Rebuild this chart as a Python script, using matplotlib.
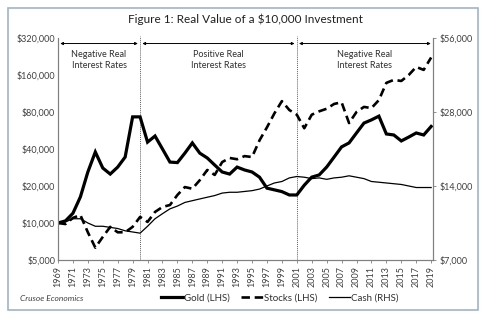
import matplotlib
matplotlib.use("Agg")
import matplotlib.pyplot as plt
from matplotlib.patches import Rectangle
from matplotlib.ticker import FixedLocator, NullLocator

plt.rcParams['font.family'] = ['Lato', 'DejaVu Sans']

years = list(range(1969, 2020))

gold = [10000, 10400, 12000, 16300, 26000, 37800, 28000, 25000, 28500, 34400,
        73000, 73000, 45500, 51000, 40000, 31300, 31000, 37000, 44800, 37000,
        33800, 29600, 26000, 25000, 28500, 27000, 26000, 23600, 19200, 18600,
        18000, 16900, 16900, 20300, 23600, 24600, 28500, 34400, 41600, 44800,
        54000, 65000, 69000, 74000, 53000, 52000, 46500, 50000, 54000, 52000,
        61000]

stocks = [10000, 9800, 11000, 11600, 8400, 6300, 7700, 9300, 8400, 8400,
          9300, 11200, 10200, 12300, 13500, 14000, 16900, 19600, 19000, 22300,
          27000, 24600, 31300, 33800, 33000, 35000, 34400, 47000, 60000, 78000,
          98000, 83000, 76000, 59000, 76000, 81000, 85000, 93000, 96000, 65000,
          80000, 88000, 86000, 100000, 138000, 146000, 143000, 160000, 186000, 176000,
          222000]

cash = [10000, 10000, 10300, 10300, 9900, 9600, 9600, 9500, 9400, 9200,
        9100, 9000, 9600, 10300, 10800, 11300, 11600, 12000, 12200, 12400,
        12600, 12800, 13100, 13200, 13200, 13300, 13400, 13600, 14000, 14400,
        14600, 15100, 15300, 15200, 15000, 15100, 14900, 15100, 15200, 15400,
        15200, 15000, 14600, 14500, 14400, 14300, 14200, 14000, 13800, 13800,
        13800]

left_ticks = [5000, 10000, 20000, 40000, 80000, 160000, 320000]
right_ticks = [7000, 14000, 28000, 56000]
regime_breaks = [1980, 2001]
regimes = [(1969, 1980, "Negative Real\nInterest Rates"),
           (1980, 2001, "Positive Real\nInterest Rates"),
           (2001, 2019.25, "Negative Real\nInterest Rates")]

fig = plt.figure(figsize=(5.0, 3.26), dpi=100)
fig.patches.append(Rectangle((0.016, 0.049), 0.94, 0.926, transform=fig.transFigure,
                             fill=False, edgecolor='#9fb4cc', linewidth=1.2))

ax = fig.add_axes([0.116, 0.2025, 0.75, 0.681])
ax2 = ax.twinx()

ax.plot(years, gold, color='black', lw=2.3, solid_joinstyle='miter', label='Gold (LHS)', zorder=3)
ax.plot(years, stocks, color='black', lw=1.9, dashes=(3.2, 1.8), label='Stocks (LHS)', zorder=3)
ax2.plot(years, cash, color='black', lw=0.9, label='Cash (RHS)')

ax.set_yscale('log')
ax.set_ylim(5000, 320000)
ax.yaxis.set_major_locator(FixedLocator(left_ticks))
ax.yaxis.set_minor_locator(NullLocator())
ax.set_yticklabels(['\\$' + format(v, ',') for v in left_ticks], fontsize=6.5, color='#404040')

ax2.set_yscale('log')
ax2.set_ylim(7000, 56000)
ax2.yaxis.set_major_locator(FixedLocator(right_ticks))
ax2.yaxis.set_minor_locator(NullLocator())
ax2.set_yticklabels(['\\$' + format(v, ',') for v in right_ticks], fontsize=6.5, color='#404040')

ax.set_xlim(1969, 2019.25)
ax.set_xticks(range(1969, 2020, 2))
ax.set_xticklabels([str(y) for y in range(1969, 2020, 2)], rotation=90, fontsize=6.5, color='#404040')

for a in (ax, ax2):
    a.spines['top'].set_visible(False)
    for s in ('left', 'right', 'bottom'):
        a.spines[s].set_color('#808080')
        a.spines[s].set_linewidth(0.8)
    a.tick_params(length=2.5, width=0.6, color='#808080', pad=2)
ax.tick_params(axis='y', length=0)

for yr in regime_breaks:
    ax.axvline(yr, color='#606060', lw=0.7, ls=(0, (1, 1)), zorder=1, ymax=1.01, clip_on=False)

arrow_y = 0.975
for x0, x1, label in regimes:
    ax.annotate('', xy=(x1 - 0.3, arrow_y), xytext=(x0 + 0.3, arrow_y),
                xycoords=('data', 'axes fraction'),
                arrowprops=dict(arrowstyle='<|-|>', color='black', lw=0.7,
                                mutation_scale=4, shrinkA=0, shrinkB=0))
    ax.text((x0 + x1) / 2, 0.945, label, transform=ax.get_xaxis_transform(),
            ha='center', va='top', fontsize=6.5, color='#303030', linespacing=1.3)

fig.text(0.49, 0.94, 'Figure 1: Real Value of a \\$10,000 Investment', ha='center', va='center',
         fontsize=8.5, color='#202020')
fig.text(0.04, 0.085, 'Crusoe Economics', ha='left', va='center', fontsize=6,
         style='italic', color='#404040')

handles = ax.get_lines()[:2] + ax2.get_lines()
fig.legend(handles, [h.get_label() for h in handles], loc='center', bbox_to_anchor=(0.56, 0.085),
           ncol=3, frameon=False, fontsize=7, handlelength=2.2, handletextpad=0.1,
           columnspacing=1.2, labelcolor='#303030')

fig.savefig('out.png', dpi=100)
